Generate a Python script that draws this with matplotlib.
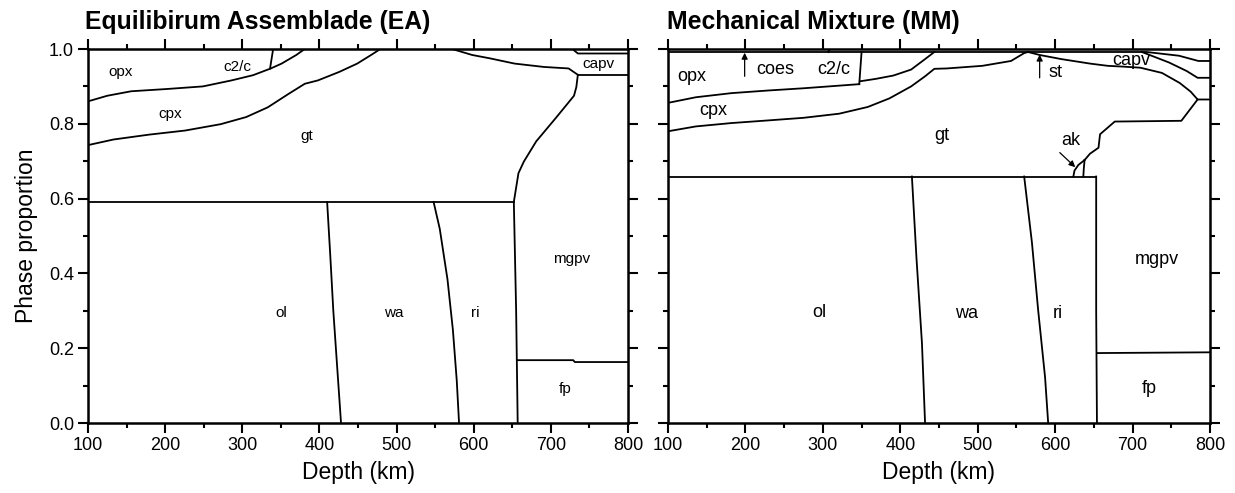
import matplotlib.pyplot as plt
from matplotlib.ticker import MultipleLocator

plt.rcParams['font.family'] = ['Liberation Sans', 'DejaVu Sans']

# ---- Equilibrium assemblage (EA): phase boundaries, depth (km) vs cumulative proportion
ea_opx_cpx_depth = [100, 125, 156, 202, 249, 286, 314, 337, 351, 370, 381]
ea_opx_cpx_frac = [0.860, 0.875, 0.887, 0.893, 0.900, 0.916, 0.930, 0.948, 0.961, 0.984, 1.0]
ea_c2c_depth = [336, 340]
ea_c2c_frac = [0.948, 1.0]
ea_cpx_gt_depth = [100, 133, 179, 226, 272, 305, 333, 360, 381, 398, 426, 449, 467, 479]
ea_cpx_gt_frac = [0.743, 0.758, 0.771, 0.782, 0.799, 0.818, 0.844, 0.880, 0.907, 0.916,
                  0.939, 0.961, 0.984, 1.0]
ea_gt_top_depth = [572, 598, 621, 653, 691, 723, 735]
ea_gt_top_frac = [1.0, 0.984, 0.975, 0.961, 0.952, 0.948, 0.931]
ea_capv_top_depth = [728, 735, 800]
ea_capv_top_frac = [1.0, 0.988, 0.988]
ea_capv_bot_depth = [735, 800]
ea_capv_bot_frac = [0.931, 0.931]
ea_gt_pv_depth = [735, 733, 730, 707, 681, 665, 658, 652, 655, 657]
ea_gt_pv_frac = [0.931, 0.898, 0.875, 0.817, 0.753, 0.699, 0.668, 0.591, 0.30, 0.0]
ea_ol_top_depth = [100, 652]
ea_ol_top_frac = [0.591, 0.591]
ea_ol_wa_depth = [410, 414, 418, 423, 428]
ea_ol_wa_frac = [0.591, 0.45, 0.30, 0.15, 0.0]
ea_wa_ri_depth = [548, 556, 566, 573, 578, 581]
ea_wa_ri_frac = [0.591, 0.519, 0.384, 0.249, 0.114, 0.0]
ea_fp_depth = [657, 729, 731, 800]
ea_fp_frac = [0.168, 0.168, 0.163, 0.163]

ea_labels = ['opx', 'c2/c', 'cpx', 'gt', 'capv', 'ol', 'wa', 'ri', 'mgpv', 'fp']
ea_label_depth = [142, 293, 207, 384, 762, 350, 497, 602, 727, 718]
ea_label_frac = [0.939, 0.952, 0.826, 0.767, 0.960, 0.295, 0.295, 0.294, 0.438, 0.091]

# ---- Mechanical mixture (MM)
mm_top2_depth = [100, 718, 760, 785, 800]
mm_top2_frac = [0.992, 0.992, 0.982, 0.968, 0.968]
mm_coes_depth = [307, 309]
mm_coes_frac = [0.992, 1.0]
mm_opx_cpx_depth = [100, 136, 182, 229, 275, 321, 347]
mm_opx_cpx_frac = [0.856, 0.871, 0.882, 0.889, 0.895, 0.902, 0.906]
mm_c2c_depth = [347, 350]
mm_c2c_frac = [0.906, 0.992]
mm_c2c_top_depth = [349, 368, 391, 414, 432, 444]
mm_c2c_top_frac = [0.914, 0.920, 0.929, 0.945, 0.973, 0.992]
mm_cpx_gt_depth = [100, 136, 182, 229, 275, 321, 358, 386, 414, 432, 444, 460, 506, 543, 560, 565]
mm_cpx_gt_frac = [0.780, 0.793, 0.802, 0.809, 0.816, 0.827, 0.845, 0.868, 0.900, 0.927,
                  0.947, 0.948, 0.955, 0.968, 0.989, 0.992]
mm_gt_top_depth = [565, 580, 608, 645, 668, 687, 710, 738, 761, 775, 784, 800]
mm_gt_top_frac = [0.992, 0.984, 0.973, 0.961, 0.955, 0.953, 0.950, 0.936, 0.909, 0.886,
                  0.865, 0.865]
mm_capv_mid_depth = [712, 747, 770, 784, 800]
mm_capv_mid_frac = [0.992, 0.964, 0.941, 0.923, 0.923]
mm_gt_pv_depth = [784, 763, 677, 658, 656, 645, 638]
mm_gt_pv_frac = [0.865, 0.808, 0.806, 0.772, 0.736, 0.720, 0.703]
mm_ak_left_depth = [638, 630, 625, 623.5]
mm_ak_left_frac = [0.703, 0.690, 0.675, 0.659]
mm_ak_right_depth = [638, 637, 636.4]
mm_ak_right_frac = [0.703, 0.680, 0.659]
mm_box_top_depth = [100, 653]
mm_box_top_frac = [0.659, 0.659]
mm_ri_pv_depth = [653, 653, 654]
mm_ri_pv_frac = [0.659, 0.30, 0.0]
mm_ol_wa_depth = [415, 421, 428, 432]
mm_ol_wa_frac = [0.659, 0.438, 0.213, 0.0]
mm_wa_ri_depth = [560, 570, 578, 587, 591]
mm_wa_ri_frac = [0.659, 0.483, 0.303, 0.122, 0.0]
mm_fp_depth = [654, 800]
mm_fp_frac = [0.187, 0.189]

mm_labels = ['opx', 'coes', 'c2/c', 'cpx', 'gt', 'st', 'capv', 'ak', 'ol', 'wa', 'ri', 'mgpv', 'fp']
mm_label_depth = [131, 238, 314, 159, 453, 601, 698, 620, 296, 486, 604, 731, 722]
mm_label_frac = [0.927, 0.945, 0.945, 0.836, 0.768, 0.936, 0.968, 0.755, 0.295, 0.294,
                 0.294, 0.438, 0.091]

# arrows: (tail depth, tail frac, head depth, head frac)
mm_arrows = [(199, 0.927, 199, 0.990), (580, 0.923, 580, 0.985), (606, 0.723, 626, 0.684)]

ea_lines = [
    (ea_opx_cpx_depth, ea_opx_cpx_frac), (ea_c2c_depth, ea_c2c_frac),
    (ea_cpx_gt_depth, ea_cpx_gt_frac), (ea_gt_top_depth, ea_gt_top_frac),
    (ea_capv_top_depth, ea_capv_top_frac), (ea_capv_bot_depth, ea_capv_bot_frac),
    (ea_gt_pv_depth, ea_gt_pv_frac), (ea_ol_top_depth, ea_ol_top_frac),
    (ea_ol_wa_depth, ea_ol_wa_frac), (ea_wa_ri_depth, ea_wa_ri_frac),
    (ea_fp_depth, ea_fp_frac),
]
mm_lines = [
    (mm_top2_depth, mm_top2_frac), (mm_coes_depth, mm_coes_frac),
    (mm_opx_cpx_depth, mm_opx_cpx_frac), (mm_c2c_depth, mm_c2c_frac),
    (mm_c2c_top_depth, mm_c2c_top_frac), (mm_cpx_gt_depth, mm_cpx_gt_frac),
    (mm_gt_top_depth, mm_gt_top_frac), (mm_capv_mid_depth, mm_capv_mid_frac),
    (mm_gt_pv_depth, mm_gt_pv_frac), (mm_ak_left_depth, mm_ak_left_frac),
    (mm_ak_right_depth, mm_ak_right_frac), (mm_box_top_depth, mm_box_top_frac),
    (mm_ri_pv_depth, mm_ri_pv_frac), (mm_ol_wa_depth, mm_ol_wa_frac),
    (mm_wa_ri_depth, mm_wa_ri_frac), (mm_fp_depth, mm_fp_frac),
]

fig = plt.figure(figsize=(12.35, 4.93), dpi=100)
ax1 = fig.add_axes([88 / 1235, 70 / 493, 540 / 1235, 374 / 493])
ax2 = fig.add_axes([668 / 1235, 70 / 493, 542 / 1235, 374 / 493])


def style_axes(ax):
    ax.set_xlim(100, 800)
    ax.set_ylim(0, 1)
    ax.xaxis.set_major_locator(MultipleLocator(100))
    ax.xaxis.set_minor_locator(MultipleLocator(50))
    ax.yaxis.set_major_locator(MultipleLocator(0.2))
    ax.yaxis.set_minor_locator(MultipleLocator(0.1))
    ax.yaxis.set_major_formatter(lambda v, p: f'{v:.1f}')
    ax.tick_params(which='both', direction='out', top=True, right=True, width=1.5,
                   labelsize=13, pad=3)
    ax.tick_params(which='major', length=7)
    ax.tick_params(which='minor', length=3.5)
    for s in ax.spines.values():
        s.set_linewidth(1.8)
    ax.set_xlabel('Depth (km)', fontsize=16.5, labelpad=5)


for ax, lines, labels, ld, lf, fs in [
        (ax1, ea_lines, ea_labels, ea_label_depth, ea_label_frac, 11),
        (ax2, mm_lines, mm_labels, mm_label_depth, mm_label_frac, 13)]:
    style_axes(ax)
    for d, f in lines:
        ax.plot(d, f, color='black', lw=1.3)
    for t, d, f in zip(labels, ld, lf):
        ax.text(d, f, t, fontsize=fs, ha='center', va='center')

for x0, y0, x1, y1 in mm_arrows:
    ax2.annotate('', xy=(x1, y1), xytext=(x0, y0),
                 arrowprops=dict(arrowstyle='-|>', color='black', lw=0.9,
                                 mutation_scale=9, shrinkA=0, shrinkB=0))

ax1.set_ylabel('Phase proportion', fontsize=16.5, labelpad=8)
ax2.tick_params(labelleft=False)

fig.text(85 / 1235, 1 - 29 / 493, 'Equilibirum Assemblade (EA)', fontsize=17.8,
         fontweight='bold', va='baseline')
fig.text(667 / 1235, 1 - 29 / 493, 'Mechanical Mixture (MM)', fontsize=17.8,
         fontweight='bold', va='baseline')

fig.savefig('out.png', dpi=100)
